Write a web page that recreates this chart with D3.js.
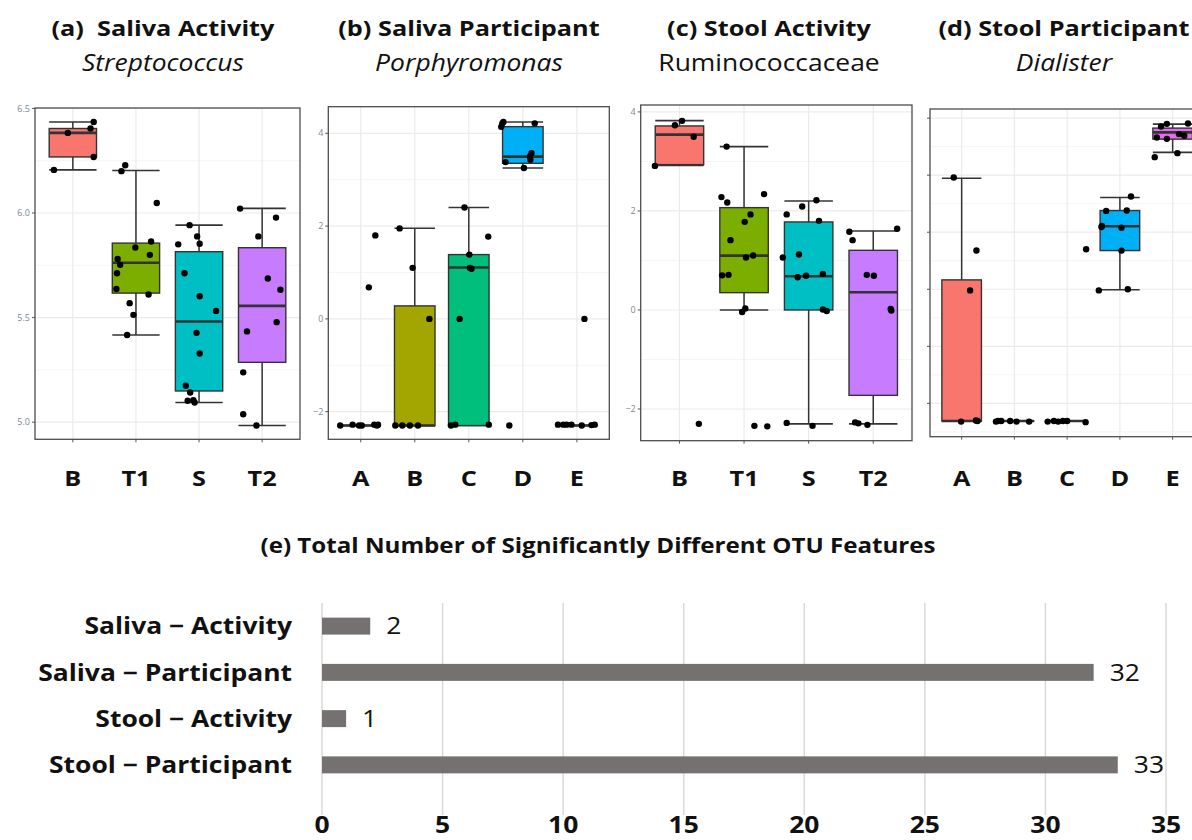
<!DOCTYPE html>
<html>
<head>
<meta charset="utf-8">
<script src="https://cdn.jsdelivr.net/npm/d3@7"></script>
<style>
  body { margin: 0; background: #fff; }
  svg { display: block; }
  text { font-family: "Open Sans", Lato, sans-serif; }
</style>
</head>
<body>
<svg id="fig" width="1192" height="840"></svg>
<script>
// ---------- categories & palettes ----------
const activityCats = ["B", "T1", "S", "T2"];
const participantCats = ["A", "B", "C", "D", "E"];
const activityColors = ["#F8766D", "#7CAE00", "#00BFC4", "#C77CFF"];
const participantColors = ["#F8766D", "#A3A500", "#00BF7D", "#00B0F6", "#E76BF3"];

// ---------- box statistics: [lower whisker, Q1, median, Q3, upper whisker] ----------
const salivaActivityBoxes = [
  [6.206, 6.268, 6.383, 6.404, 6.435],
  [5.417, 5.617, 5.762, 5.856, 6.203],
  [5.094, 5.149, 5.481, 5.815, 5.942],
  [4.984, 5.286, 5.556, 5.834, 6.022]
];
const salivaParticipantBoxes = [
  [-2.3, -2.3, -2.3, -2.3, -2.3],
  [-2.3, -2.3, -2.3, 0.28, 1.953],
  [-2.3, -2.3, 1.106, 1.386, 2.40],
  [3.253, 3.354, 3.497, 4.144, 4.244],
  [-2.3, -2.3, -2.3, -2.3, -2.3]
];
const stoolActivityBoxes = [
  [2.92, 2.936, 3.542, 3.717, 3.825],
  [0.0, 0.35, 1.098, 2.067, 3.30],
  [-2.30, 0.0, 0.68, 1.778, 2.20],
  [-2.30, -1.724, 0.357, 1.205, 1.596]
];
const stoolParticipantBoxes = [
  [-2.31, -2.31, -2.31, 0.164, 1.947],
  [-2.31, -2.31, -2.31, -2.31, -2.31],
  [-2.31, -2.31, -2.31, -2.31, -2.31],
  [-0.01, 0.678, 1.105, 1.38, 1.608],
  [2.40, 2.632, 2.75, 2.825, 2.895]
];

// ---------- observations: [group index, jitter (category units), value] ----------
const salivaActivityPoints = [
  [0, -0.30, 6.206], [0, -0.08, 6.383], [0, 0.28, 6.404], [0, 0.33, 6.435], [0, 0.33, 6.268],
  [1, -0.23, 6.20], [1, -0.17, 6.228], [1, 0.33, 6.048], [1, -0.01, 5.835], [1, 0.24, 5.864],
  [1, 0.22, 5.80], [1, -0.29, 5.78], [1, -0.25, 5.752], [1, -0.30, 5.712], [1, -0.31, 5.637],
  [1, -0.10, 5.569], [1, -0.04, 5.513], [1, 0.20, 5.61], [1, -0.14, 5.417],
  [2, -0.15, 5.942], [2, -0.03, 5.888], [2, 0.01, 5.853], [2, -0.33, 5.85], [2, -0.23, 5.712],
  [2, 0.01, 5.602], [2, 0.27, 5.532], [2, -0.04, 5.427], [2, 0.01, 5.328], [2, -0.21, 5.174],
  [2, -0.14, 5.142], [2, -0.18, 5.102], [2, -0.09, 5.105], [2, -0.07, 5.094],
  [3, -0.35, 6.021], [3, 0.22, 5.978], [3, -0.06, 5.888], [3, 0.09, 5.687], [3, 0.29, 5.633],
  [3, 0.23, 5.478], [3, -0.24, 5.434], [3, -0.30, 5.238], [3, -0.30, 5.038], [3, -0.09, 4.984]
];
const salivaParticipantPoints = [
  [0, -0.38, -2.3], [0, -0.15, -2.28], [0, -0.03, -2.3], [0, 0.02, -2.3], [0, 0.25, -2.28],
  [0, 0.30, -2.3], [0, 0.32, -2.28], [0, 0.15, 0.68], [0, 0.27, 1.80],
  [1, -0.28, 1.95], [1, -0.04, 1.10], [1, 0.27, 0.0], [1, -0.36, -2.3], [1, -0.23, -2.3],
  [1, -0.09, -2.3], [1, 0.06, -2.3],
  [2, -0.08, 2.40], [2, 0.36, 1.774], [2, 0.01, 1.386], [2, 0.02, 1.10], [2, 0.05, 1.08],
  [2, -0.17, 0.0], [2, -0.33, -2.3], [2, -0.25, -2.28], [2, 0.37, -2.28],
  [3, -0.38, 4.215], [3, -0.36, 4.244], [3, -0.40, 4.14], [3, 0.22, 4.215], [3, -0.32, 3.38],
  [3, 0.16, 3.57], [3, 0.14, 3.43], [3, 0.13, 3.5], [3, 0.02, 3.253], [3, -0.25, -2.3],
  [4, -0.35, -2.28], [4, -0.25, -2.28], [4, -0.19, -2.28], [4, -0.10, -2.28], [4, 0.09, -2.3],
  [4, 0.27, -2.29], [4, 0.33, -2.28], [4, 0.14, 0.0]
];
const stoolActivityPoints = [
  [0, -0.38, 2.91], [0, -0.07, 3.73], [0, 0.04, 3.82], [0, 0.22, 3.50], [0, 0.30, -2.30],
  [1, -0.27, 3.30], [1, -0.35, 2.28], [1, -0.26, 2.17], [1, 0.31, 2.34], [1, 0.10, 1.93],
  [1, 0.01, 1.78], [1, -0.21, 1.41], [1, 0.03, 1.06], [1, 0.14, 1.10], [1, -0.34, 0.70],
  [1, -0.24, 0.71], [1, 0.02, 0.03], [1, -0.03, -0.04], [1, 0.16, -2.34], [1, 0.36, -2.35],
  [2, 0.12, 2.215], [2, -0.10, 2.09], [2, -0.34, 1.93], [2, 0.16, 1.80], [2, -0.40, 1.06],
  [2, -0.15, 1.12], [2, -0.17, 0.66], [2, -0.04, 0.69], [2, 0.22, 0.73], [2, 0.22, 0.01],
  [2, 0.28, -0.02], [2, -0.34, -2.28], [2, 0.06, -2.34],
  [3, -0.37, 1.58], [3, -0.32, 1.41], [3, 0.37, 1.64], [3, -0.10, 0.71], [3, 0.01, 0.69],
  [3, 0.27, 0.02], [3, 0.28, -0.01], [3, -0.28, -2.27], [3, -0.23, -2.29], [3, -0.09, -2.32]
];
const stoolParticipantPoints = [
  [0, -0.15, 1.96], [0, 0.28, 0.68], [0, 0.16, -0.02], [0, -0.01, -2.32], [0, 0.27, -2.30],
  [0, 0.30, -2.31],
  [1, -0.35, -2.32], [1, -0.31, -2.31], [1, -0.25, -2.31], [1, -0.08, -2.31], [1, 0.04, -2.32],
  [1, 0.28, -2.32],
  [2, -0.37, -2.32], [2, -0.25, -2.31], [2, -0.17, -2.32], [2, -0.08, -2.31], [2, 0.0, -2.31],
  [2, 0.35, -2.33], [2, 0.36, 0.70],
  [3, 0.21, 1.626], [3, -0.26, 1.374], [3, 0.13, 1.38], [3, -0.35, 1.09], [3, -0.34, 1.11],
  [3, 0.03, 1.08], [3, 0.03, 0.678], [3, -0.40, -0.02], [3, 0.15, 0.0],
  [4, -0.34, 2.316], [4, 0.09, 2.386], [4, -0.30, 2.66], [4, -0.11, 2.637], [4, -0.22, 2.854],
  [4, -0.11, 2.90], [4, 0.29, 2.906], [4, 0.12, 2.72], [4, 0.22, 2.69]
];

// ---------- y-axis ticks ----------
const salivaActivityTicks = [5.0, 5.5, 6.0, 6.5];
const logTicks = [-2, 0, 2, 4];
const stoolParticipantTicks = [-2, -1, 0, 1, 2, 3];

// ---------- bar chart (e) ----------
const featureGroups = ["Saliva \u2212 Activity", "Saliva \u2212 Participant", "Stool \u2212 Activity", "Stool \u2212 Participant"];
const featureCounts = [2, 32, 1, 33];
const featureTicks = [0, 5, 10, 15, 20, 25, 30, 35];

const svg = d3.select("#fig");

// large labels use a slightly widened face
const SX = 1.15;
function place(sel, fx, fy) {
  return sel.attr("transform", (d, i) => `translate(${fx(d, i)},${fy(d, i)}) scale(${SX},1)`);
}

// panel layout
const panels = [
  { cats: activityCats, colors: activityColors, boxes: salivaActivityBoxes, points: salivaActivityPoints,
    yDomain: [4.918, 6.502], ticks: salivaActivityTicks, minorStep: 0.25, fmt: d3.format(".1f"), showLabels: true,
    frame: { x0: 35, x1: 300, y0: 108, y1: 439.3 },
    title: "(a)  Saliva Activity", subtitle: "Streptococcus", italic: true, titleX: 163 },
  { cats: participantCats, colors: participantColors, boxes: salivaParticipantBoxes, points: salivaParticipantPoints,
    yDomain: [-2.596, 4.574], ticks: logTicks, minorStep: 1, fmt: d3.format("d"), showLabels: true,
    frame: { x0: 328.3, x1: 609.3, y0: 106.7, y1: 439.3 },
    title: "(b) Saliva Participant", subtitle: "Porphyromonas", italic: true, titleX: 469 },
  { cats: activityCats, colors: activityColors, boxes: stoolActivityBoxes, points: stoolActivityPoints,
    yDomain: [-2.64, 4.14], ticks: logTicks, minorStep: 1, fmt: d3.format("d"), showLabels: true,
    frame: { x0: 640.7, x1: 912, y0: 105, y1: 440.7 },
    title: "(c) Stool Activity", subtitle: "Ruminococcaceae", italic: false, titleX: 769 },
  { cats: participantCats, colors: participantColors, boxes: stoolParticipantBoxes, points: stoolParticipantPoints,
    yDomain: [-2.585, 3.16], ticks: stoolParticipantTicks, minorStep: 0.5, fmt: d3.format("d"), showLabels: false,
    frame: { x0: 930, x1: 1204.3, y0: 109, y1: 436.7 },
    title: "(d) Stool Participant", subtitle: "Dialister", italic: true, titleX: 1064 }
];

panels.forEach((p, i) => {
  const f = p.frame;
  const x = d3.scalePoint().domain(p.cats).range([f.x0, f.x1]).padding(0.6);
  const y = d3.scaleLinear().domain(p.yDomain).range([f.y1, f.y0]);
  const step = x.step();
  const boxW = step * 0.75;

  const clipId = "clip" + i;
  svg.append("clipPath").attr("id", clipId)
    .append("rect").attr("x", f.x0).attr("y", f.y0).attr("width", f.x1 - f.x0).attr("height", f.y1 - f.y0);

  const g = svg.append("g");
  const inner = g.append("g").attr("clip-path", `url(#${clipId})`);

  // minor gridlines
  const minor = d3.range(Math.ceil(p.yDomain[0] / p.minorStep) * p.minorStep, p.yDomain[1], p.minorStep)
    .filter(v => !p.ticks.some(t => Math.abs(t - v) < 1e-6));
  inner.selectAll(".minor").data(minor).join("line")
    .attr("x1", f.x0).attr("x2", f.x1).attr("y1", d => y(d)).attr("y2", d => y(d))
    .attr("stroke", "#F2F2F2").attr("stroke-width", 0.8);
  // major gridlines
  inner.selectAll(".majorY").data(p.ticks).join("line")
    .attr("x1", f.x0).attr("x2", f.x1).attr("y1", d => y(d)).attr("y2", d => y(d))
    .attr("stroke", "#EBEBEB").attr("stroke-width", 1.2);
  inner.selectAll(".majorX").data(p.cats).join("line")
    .attr("x1", d => x(d)).attr("x2", d => x(d)).attr("y1", f.y0).attr("y2", f.y1)
    .attr("stroke", "#EBEBEB").attr("stroke-width", 1.2);

  const boxes = p.boxes.map((b, k) => ({ cat: p.cats[k], color: p.colors[k], lo: b[0], q1: b[1], med: b[2], q3: b[3], hi: b[4] }));

  // whiskers with end caps
  const wk = inner.selectAll(".whisk").data(boxes).join("g");
  wk.append("line").attr("x1", d => x(d.cat)).attr("x2", d => x(d.cat))
    .attr("y1", d => y(d.hi)).attr("y2", d => y(d.lo)).attr("stroke", "#333").attr("stroke-width", 1.5);
  ["hi", "lo"].forEach(k => {
    wk.append("line").attr("x1", d => x(d.cat) - boxW / 2).attr("x2", d => x(d.cat) + boxW / 2)
      .attr("y1", d => y(d[k])).attr("y2", d => y(d[k])).attr("stroke", "#333").attr("stroke-width", 1.6);
  });

  // boxes
  inner.selectAll(".box").data(boxes).join("rect")
    .attr("x", d => x(d.cat) - boxW / 2).attr("width", boxW)
    .attr("y", d => y(d.q3)).attr("height", d => Math.max(0, y(d.q1) - y(d.q3)))
    .attr("fill", d => d.color).attr("stroke", "#333").attr("stroke-width", 1.4);
  inner.selectAll(".med").data(boxes).join("line")
    .attr("x1", d => x(d.cat) - boxW / 2).attr("x2", d => x(d.cat) + boxW / 2)
    .attr("y1", d => y(d.med)).attr("y2", d => y(d.med))
    .attr("stroke", "#333").attr("stroke-width", 2.6);

  // jittered observations
  inner.selectAll(".pt").data(p.points).join("circle")
    .attr("cx", d => x(p.cats[d[0]]) + d[1] * step)
    .attr("cy", d => y(d[2]))
    .attr("r", 3.2).attr("fill", "#000");

  // panel border
  g.append("rect").attr("x", f.x0).attr("y", f.y0)
    .attr("width", f.x1 - f.x0).attr("height", f.y1 - f.y0)
    .attr("fill", "none").attr("stroke", "#4d4d4d").attr("stroke-width", 1.3);

  // y axis ticks (+ labels)
  g.selectAll(".ytick").data(p.ticks).join("line")
    .attr("x1", f.x0 - 3).attr("x2", f.x0).attr("y1", d => y(d)).attr("y2", d => y(d))
    .attr("stroke", "#555").attr("stroke-width", 1);
  if (p.showLabels) {
    g.selectAll(".ylab").data(p.ticks).join("text")
      .attr("x", f.x0 - 5).attr("y", d => y(d)).attr("dy", "0.35em")
      .attr("text-anchor", "end").attr("font-size", 9).attr("fill", "#7d8792")
      .text(d => p.fmt(d));
  }
  // x axis ticks
  g.selectAll(".xtick").data(p.cats).join("line")
    .attr("x1", d => x(d)).attr("x2", d => x(d)).attr("y1", f.y1).attr("y2", f.y1 + 3)
    .attr("stroke", "#555").attr("stroke-width", 1);

  // category labels
  place(g.selectAll(".xlab").data(p.cats).join("text"), d => x(d), () => 486)
    .attr("text-anchor", "middle").attr("font-size", 22).attr("font-weight", 700).attr("fill", "#111")
    .text(d => d);

  // titles
  place(svg.append("text"), () => p.titleX, () => 36).attr("text-anchor", "middle")
    .attr("font-size", 22).attr("font-weight", 700).attr("fill", "#111").attr("xml:space", "preserve")
    .text(p.title);
  place(svg.append("text"), () => p.titleX, () => 71).attr("text-anchor", "middle")
    .attr("font-size", 23).attr("font-style", p.italic ? "italic" : "normal").attr("fill", "#111")
    .text(p.subtitle);
});

// ---------- (e) horizontal bar chart ----------
place(svg.append("text"), () => 598, () => 553).attr("text-anchor", "middle")
  .attr("font-size", 21).attr("font-weight", 700).attr("fill", "#111")
  .text("(e) Total Number of Significantly Different OTU Features");

const bx = d3.scaleLinear().domain([0, 35]).range([322, 1166]);
const by = d3.scaleBand().domain(featureGroups).range([603, 788]).paddingInner(0.633).paddingOuter(0.3165);

svg.append("g").selectAll("line").data(featureTicks).join("line")
  .attr("x1", d => bx(d)).attr("x2", d => bx(d)).attr("y1", 603).attr("y2", 815)
  .attr("stroke", "#D9D9D9").attr("stroke-width", 1.5);

svg.append("g").selectAll("rect").data(featureCounts).join("rect")
  .attr("x", bx(0)).attr("y", (d, i) => by(featureGroups[i]))
  .attr("width", d => bx(d) - bx(0)).attr("height", by.bandwidth())
  .attr("fill", "#767171");

place(svg.append("g").selectAll("text").data(featureCounts).join("text"),
    d => bx(d) + 16, (d, i) => by(featureGroups[i]) + by.bandwidth() / 2)
  .attr("dy", "0.36em").attr("font-size", 23).attr("fill", "#111")
  .text(d => d);

place(svg.append("g").selectAll("text").data(featureGroups).join("text"),
    () => 292, d => by(d) + by.bandwidth() / 2)
  .attr("dy", "0.36em").attr("text-anchor", "end").attr("font-size", 23).attr("font-weight", 700).attr("fill", "#111")
  .text(d => d);

place(svg.append("g").selectAll("text").data(featureTicks).join("text"),
    d => bx(d), () => 833)
  .attr("text-anchor", "middle").attr("font-size", 23).attr("font-weight", 700).attr("fill", "#111")
  .text(d => d);
</script>
</body>
</html>
